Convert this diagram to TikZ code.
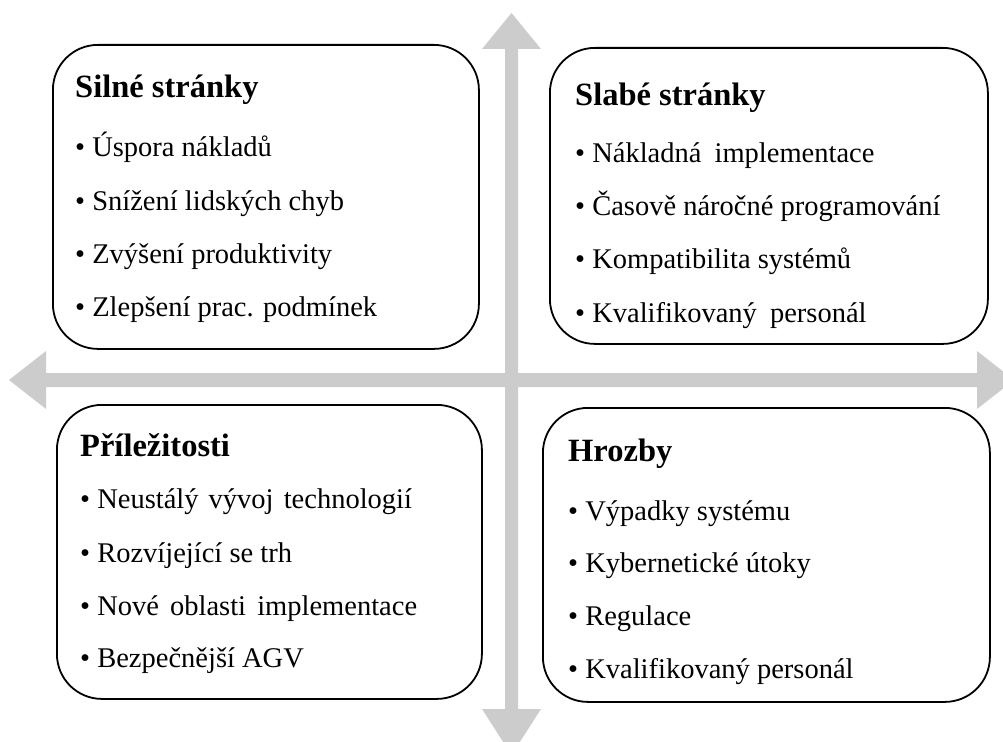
\documentclass[tikz,border=0pt]{standalone}
\usepackage{fontspec}
\setmainfont{Liberation Serif}
\definecolor{arrowgray}{RGB}{204,204,204}
\begin{document}
\begin{tikzpicture}[x=1pt,y=-1pt,
  box/.style={draw, line width=1.8pt, rounded corners=45pt, inner sep=0pt, anchor=north west},
  title/.style={anchor=base west, inner sep=0pt, font=\fontsize{32.5}{38}\selectfont\bfseries},
  item/.style={anchor=base west, inner sep=0pt, font=\fontsize{28.5}{34}\selectfont},
  arrowfill/.style={fill=arrowgray, draw=none}]
\useasboundingbox (0,0) rectangle (1003,741);
% axes
\fill[arrowfill] (505,49) -- (482,49) -- (511.5,13) -- (541,49) -- (518,49)
  -- (518,709) -- (541,709) -- (511.5,755) -- (482,709) -- (505,709) -- cycle;
\fill[arrowfill] (46,373) -- (46,351) -- (9,380) -- (46,409) -- (46,387)
  -- (977,387) -- (977,409) -- (1014,380) -- (977,351) -- (977,373) -- cycle;
% boxes
\node[box, minimum width=426pt, minimum height=304pt] (tl) at (52,44) {};
\node[box, minimum width=438pt, minimum height=296pt] (tr) at (549,47) {};
\node[box, minimum width=425pt, minimum height=294pt] (bl) at (56,404) {};
\node[box, minimum width=447pt, minimum height=294pt] (br) at (542,407) {};
% texts
\node[title] (tlt) at (75,98) {Silné stránky};
\node[item] (tl1) at (75,157) {\textbullet\ Úspora nákladů};
\node[item] (tl2) at (75,210) {\textbullet\ Snížení lidských chyb};
\node[item] (tl3) at (75,263) {\textbullet\ Zvýšení produktivity};
\node[item] (tl4) at (75,316) {\textbullet\ Zlepšení prac. podmínek};
\node[title] (trt) at (575,106) {Slabé stránky};
\node[item] (tr1) at (575,162) {\textbullet\ Nákladná\hspace{6pt} implementace};
\node[item] (tr2) at (575,215) {\textbullet\ Časově náročné programování};
\node[item] (tr3) at (575,268) {\textbullet\ Kompatibilita systémů};
\node[item] (tr4) at (575,322) {\textbullet\ Kvalifikovaný\hspace{6pt} personál};
\node[title] (blt) at (80,456) {Příležitosti};
\node[item] (bl1) at (80,508) {\textbullet\ Neustálý\hspace{3pt} vývoj\hspace{3pt} technologií};
\node[item] (bl2) at (80,562) {\textbullet\ Rozvíjející se trh};
\node[item] (bl3) at (80,615) {\textbullet\ Nové\hspace{4pt} oblasti\hspace{4pt} implementace};
\node[item] (bl4) at (80,667) {\textbullet\ Bezpečnější AGV};
\node[title] (brt) at (568,461) {Hrozby};
\node[item] (br1) at (568,520) {\textbullet\ Výpadky systému};
\node[item] (br2) at (568,572) {\textbullet\ Kybernetické útoky};
\node[item] (br3) at (568,625) {\textbullet\ Regulace};
\node[item] (br4) at (568,678) {\textbullet\ Kvalifikovaný personál};
\end{tikzpicture}
\end{document}
